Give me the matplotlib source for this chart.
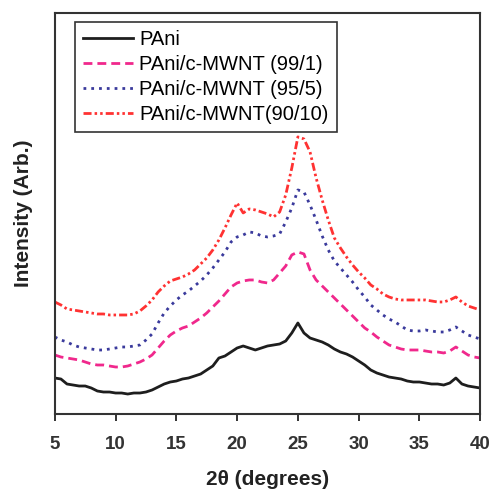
import numpy as np
import matplotlib
matplotlib.use("Agg")
import matplotlib.pyplot as plt

plt.rcParams['font.family'] = ['Liberation Sans', 'DejaVu Sans']

# XRD patterns, 2theta in degrees (0.5 deg steps), intensity in arbitrary units
two_theta = np.arange(5.0, 40.01, 0.5)

pani = [36, 35, 30, 29, 28, 28, 26, 23, 22, 22,
        21, 21, 20, 21, 21, 22, 24, 27, 30, 32,
        33, 35, 36, 38, 40, 44, 48, 56, 58, 62,
        66, 68, 66, 64, 66, 68, 69, 70, 73, 81,
        91, 81, 76, 74, 72, 69, 65, 62, 60, 57,
        53, 49, 44, 41, 39, 37, 36, 35, 33, 32,
        32, 31, 30, 30, 29, 31, 36, 30, 28, 27,
        26]

mwnt_99_1 = [59, 57, 56, 55, 54, 52, 50, 49, 49, 48,
             47, 47, 48, 50, 52, 55, 59, 66, 73, 79,
             83, 86, 88, 92, 96, 101, 107, 113, 120, 127,
             131, 133, 134, 134, 132, 131, 134, 141, 148, 159,
             162, 160, 144, 134, 128, 122, 116, 110, 104, 98,
             92, 86, 82, 77, 73, 69, 67, 65, 64, 64,
             64, 63, 62, 62, 61, 63, 67, 63, 59, 57,
             56]

mwnt_95_5 = [77, 74, 72, 69, 67, 66, 65, 64, 64, 65,
             66, 67, 67, 68, 69, 74, 80, 91, 101, 108,
             114, 119, 123, 128, 133, 139, 146, 154, 162, 172,
             177, 179, 182, 181, 178, 177, 178, 180, 192, 206,
             224, 222, 209, 194, 178, 164, 153, 146, 139, 132,
             124, 117, 109, 104, 99, 95, 92, 88, 84, 83,
             83, 84, 83, 82, 82, 84, 87, 83, 79, 77,
             75]

mwnt_90_10 = [112, 109, 105, 104, 103, 102, 101, 100, 100, 99,
              99, 99, 99, 100, 103, 108, 114, 122, 128, 133,
              135, 137, 140, 144, 150, 156, 164, 174, 186, 199,
              211, 201, 205, 204, 202, 200, 197, 202, 219, 246,
              277, 275, 262, 236, 214, 194, 176, 166, 157, 149,
              142, 136, 129, 125, 120, 117, 115, 114, 114, 114,
              114, 114, 113, 112, 112, 114, 117, 112, 108, 106,
              104]

labels = ['PAni', 'PAni/c-MWNT (99/1)', 'PAni/c-MWNT (95/5)', 'PAni/c-MWNT(90/10)']
colors = ['#1e1e1e', '#f0288c', '#3a3a9c', '#ff3232']
styles = ['-', (0, (3.2, 1.8)), (0, (1.0, 1.8)), (0, (2.9, 1.1, 0.9, 1.1, 0.9, 1.1))]
x_ticks = [5, 10, 15, 20, 25, 30, 35, 40]

fig = plt.figure(figsize=(4.94, 4.95), dpi=100)
ax = fig.add_axes([0.111, 0.1636, 0.861, 0.8104])

for data, lab, col, ls in zip([pani, mwnt_99_1, mwnt_95_5, mwnt_90_10], labels, colors, styles):
    ax.plot(two_theta, data, color=col, linestyle=ls, linewidth=2, label=lab)

ax.set_xlim(5, 40)
ax.set_ylim(0, 401)
ax.set_xticks(x_ticks)
ax.set_xticklabels([str(t) for t in x_ticks], fontsize=13.5, fontweight='bold', color='#222222')
ax.set_yticks([])
ax.tick_params(axis='x', direction='out', length=5, width=1.4, pad=11, colors='#333333')

for sp in ax.spines.values():
    sp.set_linewidth(1.5)
    sp.set_color('#333333')

ax.set_xlabel('2θ (degrees)', fontsize=15, fontweight='bold', color='#222222', labelpad=12)
ax.set_ylabel('Intensity (Arb.)', fontsize=15, fontweight='bold', color='#222222', labelpad=16)

leg = ax.legend(loc='upper left', bbox_to_anchor=(0.047, 0.978), borderaxespad=0,
                fontsize=14.5, fancybox=False, framealpha=1, edgecolor='#333333',
                handlelength=2.5, handletextpad=0.3, labelspacing=0.3,
                borderpad=0.4)
leg.get_frame().set_linewidth(1.2)

fig.savefig('out.png', dpi=100)
